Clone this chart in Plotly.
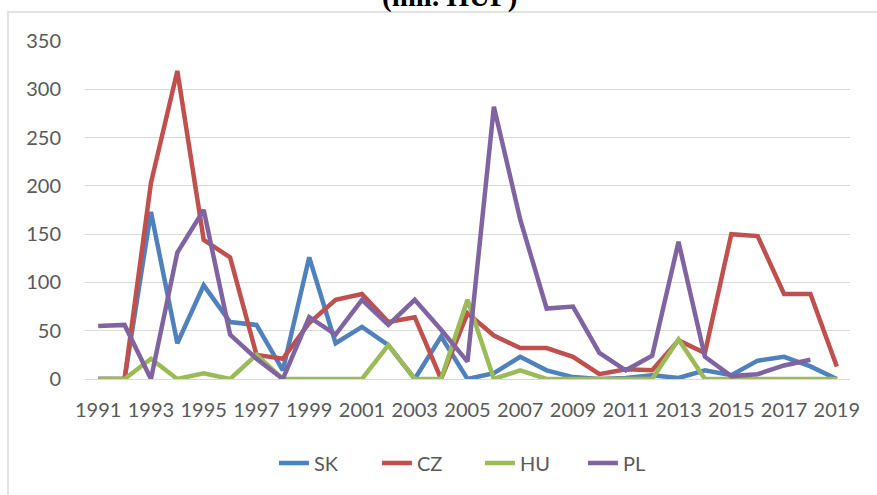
import plotly.graph_objects as go

years = list(range(1991, 2020))

sk = [0, 0, 173, 37, 97, 59, 56, 9, 126, 37, 54, 35, 0, 44, 0, 6, 23, 9, 2, 0,
      1, 4, 1, 9, 4, 19, 23, 13, 0]
cz = [0, 0, 203, 319, 144, 126, 25, 21, 58, 82, 88, 59, 64, 0, 68, 45, 32, 32, 23, 5,
      10, 9, 40, 27, 150, 148, 88, 88, 13]
hu = [0, 0, 21, 0, 6, 0, 25, 0, 0, 0, 0, 35, 0, 0, 82, 0, 9, 0, 0, 0,
      0, 0, 41, 0, 0, 0, 0, 0, 0]
pl = [55, 56, 0, 131, 175, 46, 21, 0, 64, 46, 82, 56, 82, 51, 18, 282, 165, 73, 75, 27,
      9, 24, 142, 23, 3, 5, 14, 20, None]

series = [("SK", sk, "#4f81bd"), ("CZ", cz, "#c0504d"),
          ("HU", hu, "#9bbb59"), ("PL", pl, "#8064a2")]

title_text = "(mil. HUF)"

FONT = "Lato, 'Open Sans', sans-serif"
GREY = "#595959"
GRID = "#d9d9d9"

fig = go.Figure()

for name, vals, color in series:
    fig.add_trace(go.Scatter(
        x=years,
        y=vals,
        mode="lines",
        name=name,
        line=dict(color=color, width=4.5),
        connectgaps=False,
    ))

fig.update_layout(
    width=877,
    height=495,
    margin=dict(l=85, r=27, t=41, b=116),
    paper_bgcolor="white",
    plot_bgcolor="white",
    font=dict(family=FONT, size=20, color=GREY),
    showlegend=True,
    legend=dict(orientation="h", x=0.247, xanchor="left", y=-0.2485, yanchor="middle",
                font=dict(size=20, color=GREY), itemwidth=30, entrywidth=58),
)

# x axis behaves like Excel's category axis: a label every second year
fig.update_xaxes(
    range=[1990.5, 2019.5], tick0=1991, dtick=2,
    showgrid=False, zeroline=False, showline=False,
    ticks="outside", ticklen=13, tickcolor="rgba(0,0,0,0)",
    tickfont=dict(size=20, color=GREY),
)
fig.update_yaxes(
    range=[0, 350], dtick=50,
    showgrid=True, gridcolor=GRID, gridwidth=1,
    zeroline=True, zerolinecolor=GRID, zerolinewidth=1, showline=False,
    ticks="outside", ticklen=19, tickcolor="rgba(0,0,0,0)",
    tickfont=dict(size=20, color=GREY),
)

# chart frame (runs off the right and bottom edges, as in the source)
fig.add_shape(type="rect", xref="paper", yref="paper",
              x0=-0.1007, x1=1.06, y0=-0.4, y1=1.0858,
              line=dict(color=GRID, width=1.5), fillcolor="rgba(0,0,0,0)", layer="below")

# title, cut off by the top of the picture
fig.add_annotation(text="<b>" + title_text + "</b>", xref="paper", yref="paper",
                   x=0.476, y=1, xanchor="center", yanchor="middle", yshift=45,
                   showarrow=False,
                   font=dict(family="'Liberation Serif', 'Times New Roman', serif",
                             size=29, color="black"))

# drop the default page margin so the figure sits at the window's corner
fig.write_html("out.html", config={"displayModeBar": False},
               post_script="document.body.style.margin = '0';")
